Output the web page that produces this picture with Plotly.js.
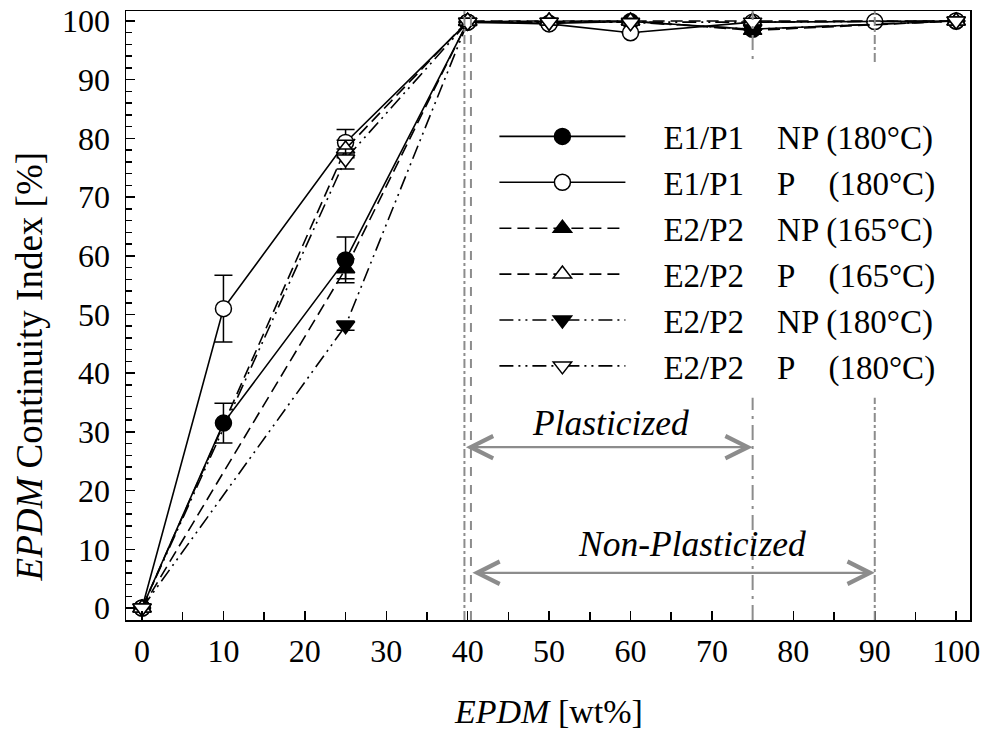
<!DOCTYPE html>
<html>
<head>
<meta charset="utf-8">
<script src="https://cdn.plot.ly/plotly-3.0.1.min.js"></script>
<style>html,body{margin:0;padding:0;background:#fff;}#chart{width:983px;height:729px;}</style>
</head>
<body>
<div id="chart"></div>
<script>
// ---- data ----
const xE1 = [0, 10, 25, 40, 50, 60, 75, 100];
const yE1NP = [0, 31.5, 59.3, 99.8, 99.6, 99.9, 98.6, 100];
const eE1NP = [null, 3.4, 3.9, null, null, null, null, null];

const xE1P = [0, 10, 25, 40, 50, 60, 75, 90, 100];
const yE1P = [0, 51, 79.3, 99.8, 99.5, 98.0, 99.8, 99.9, 100];
const eE1P = [null, 5.7, 2.2, null, null, null, null, null, null];

const xE2 = [0, 25, 40, 50, 60, 75, 100];
const yE2NP165 = [0, 57.8, 99.9, 100, 100, 98.4, 100];
const eE2NP165 = [null, 1.7, null, null, null, null, null];
const yE2P165 = [0, 78.2, 100, 100, 100, 100, 100];
const eE2P165 = [null, 1.5, null, null, null, null, null];
const yE2NP180 = [0, 48.1, 99.8, 99.8, 99.8, 98.6, 100];
const eE2NP180 = [null, 0.8, null, null, null, null, null];
const yE2P180 = [0, 76.5, 99.8, 99.8, 99.7, 99.8, 100];
const eE2P180 = [null, 1.7, null, null, null, null, null];

const seriesNames = [
  'E1/P1\u00a0\u00a0\u00a0\u00a0NP (180°C)',
  'E1/P1\u00a0\u00a0\u00a0\u00a0P\u00a0\u00a0\u00a0\u00a0(180°C)',
  'E2/P2\u00a0\u00a0\u00a0\u00a0NP (165°C)',
  'E2/P2\u00a0\u00a0\u00a0\u00a0P\u00a0\u00a0\u00a0\u00a0(165°C)',
  'E2/P2\u00a0\u00a0\u00a0\u00a0NP (180°C)',
  'E2/P2\u00a0\u00a0\u00a0\u00a0P\u00a0\u00a0\u00a0\u00a0(180°C)'
];
const xTickVals = [0, 10, 20, 30, 40, 50, 60, 70, 80, 90, 100];
const yTickVals = [0, 10, 20, 30, 40, 50, 60, 70, 80, 90, 100];

// boundary lines and range arrows
const boundaryX = [39.6, 40.4, 75, 90];
const plasticizedRange = [39.6, 75];
const plasticizedY = 27.4;
const nonPlasticizedRange = [40.4, 90];
const nonPlasticizedY = 6.0;

// ---- styling ----
const FONT = 'Liberation Serif, Times New Roman, serif';
const LINE_DASHDOTDOT = '14px,5px,2px,5px,2px,5px';
const LINE_DASH = '12px,6px';
const PAD = '\u00a0\u00a0\u00a0\u00a0';

function mk(name, x, y, err, dash, symbol, filled) {
  return {
    type: 'scatter', mode: 'lines+markers', name: PAD + name, x: x, y: y,
    line: {color: '#000', width: 1.6, dash: dash},
    marker: {symbol: symbol, size: 16, color: filled ? '#000' : '#fff', line: {color: '#000', width: 1.5}},
    error_y: {type: 'data', array: err, visible: true, color: '#000', thickness: 1.5, width: 9},
    cliponaxis: false
  };
}

const traces = [
  mk(seriesNames[0], xE1, yE1NP, eE1NP, 'solid', 'circle', true),
  mk(seriesNames[1], xE1P, yE1P, eE1P, 'solid', 'circle', false),
  mk(seriesNames[2], xE2, yE2NP165, eE2NP165, LINE_DASH, 'triangle-up', true),
  mk(seriesNames[3], xE2, yE2P165, eE2P165, LINE_DASH, 'triangle-up', false),
  mk(seriesNames[4], xE2, yE2NP180, eE2NP180, LINE_DASHDOTDOT, 'triangle-down', true),
  mk(seriesNames[5], xE2, yE2P180, eE2P180, LINE_DASHDOTDOT, 'triangle-down', false)
];

const boundaryDash = ['dashdot', 'dash', 'longdashdot', 'dashdot'];
const shapes = boundaryX.map((bx, i) => ({
  type: 'line', xref: 'x', yref: 'paper', x0: bx, x1: bx, y0: 0, y1: 1,
  line: {color: '#8c8c8c', width: 2, dash: boundaryDash[i]}, layer: 'above'
}));
// white backing behind the legend
shapes.push({type: 'rect', xref: 'paper', yref: 'paper', x0: 0.43, x1: 0.99, y0: 0.365, y1: 0.915,
  fillcolor: '#fff', line: {width: 0}, layer: 'above'});

const arrowCommon = {
  xref: 'x', yref: 'y', axref: 'x', ayref: 'y', text: '', showarrow: true,
  arrowside: 'end+start', arrowhead: 5, startarrowhead: 5, arrowsize: 2, startarrowsize: 2,
  arrowwidth: 2.2, arrowcolor: '#8c8c8c', standoff: 0, startstandoff: 0
};
const annotations = [
  Object.assign({}, arrowCommon, {x: plasticizedRange[1], y: plasticizedY, ax: plasticizedRange[0], ay: plasticizedY}),
  Object.assign({}, arrowCommon, {x: nonPlasticizedRange[1], y: nonPlasticizedY, ax: nonPlasticizedRange[0], ay: nonPlasticizedY}),
  {xref: 'x', yref: 'y', x: 57.5, y: 31.6, text: '<i>Plasticized</i>', showarrow: false,
   font: {family: FONT, size: 35.5, color: '#000'}},
  {xref: 'x', yref: 'y', x: 67.6, y: 10.9, text: '<i>Non-Plasticized</i>', showarrow: false,
   font: {family: FONT, size: 35.5, color: '#000'}},
  {xref: 'paper', yref: 'paper', x: -0.114, y: 0.416, xanchor: 'center', yanchor: 'middle',
   text: '<i>EPDM</i> Continuity Index [%]', showarrow: false,
   textangle: -90, font: {family: FONT, size: 37, color: '#000'}},
  {xref: 'paper', yref: 'paper', x: 0.5, y: -0.151, xanchor: 'center', yanchor: 'middle',
   text: '<i>EPDM</i> [wt%]', showarrow: false,
   font: {family: FONT, size: 34, color: '#000'}}
];

const axisCommon = {
  showgrid: false, zeroline: false, showline: true, linecolor: '#000', linewidth: 1.5, mirror: true,
  ticks: 'inside', ticklen: 9, tickwidth: 1.5, tickcolor: '#000',
  tickfont: {family: FONT, size: 32, color: '#000'}
};

const layout = {
  width: 983, height: 729,
  margin: {l: 126, r: 13, t: 11, b: 109},
  paper_bgcolor: '#fff', plot_bgcolor: '#fff',
  font: {family: FONT, color: '#000'},
  xaxis: Object.assign({}, axisCommon, {
    range: [-1.97, 101.7], tickmode: 'array', tickvals: xTickVals, ticklabelstandoff: 2,
    minor: {dtick: 5, ticks: 'inside', ticklen: 8, tickwidth: 1.5, tickcolor: '#000', showgrid: false}
  }),
  yaxis: Object.assign({}, axisCommon, {
    range: [-2.04, 101.7], tickmode: 'array', tickvals: yTickVals, ticklabelstandoff: 8,
    minor: {dtick: 2, ticks: 'inside', ticklen: 6, tickwidth: 1.5, tickcolor: '#000', showgrid: false}
  }),
  showlegend: true,
  legend: {x: 0.4365, y: 0.840, xanchor: 'left', yanchor: 'top', bgcolor: 'rgba(0,0,0,0)', borderwidth: 0,
    itemwidth: 126, tracegroupgap: 0, font: {family: FONT, size: 33, color: '#000'}},
  shapes: shapes,
  annotations: annotations
};

Plotly.newPlot('chart', traces, layout, {staticPlot: true});
</script>
</body>
</html>
